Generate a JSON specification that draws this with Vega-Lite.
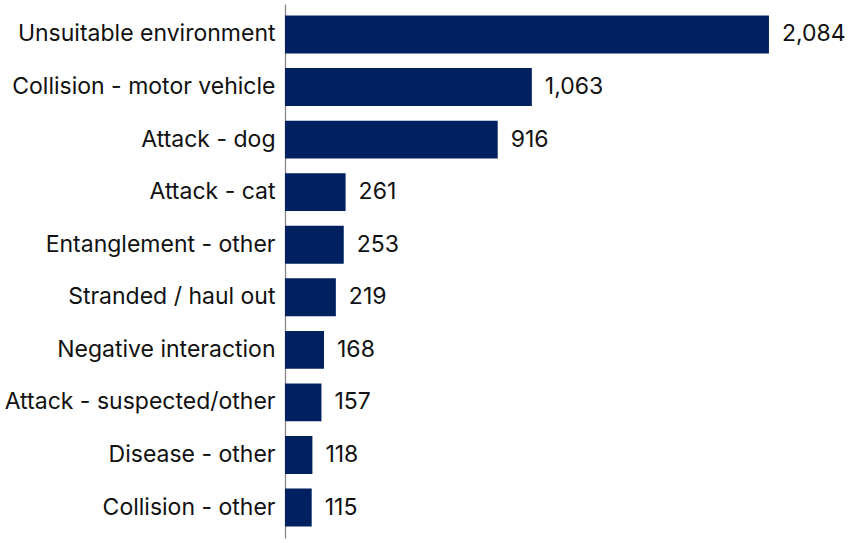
{
  "$schema": "https://vega.github.io/schema/vega-lite/v6.json",
  "width": 565,
  "height": 534,
  "autosize": "none",
  "padding": {"left": 285, "top": 4, "right": 11, "bottom": 5},
  "background": "white",
  "config": {"view": {"stroke": null}, "font": "Inter"},
  "data": {"values": [
    {"cause": "Unsuitable environment", "count": 2084},
    {"cause": "Collision - motor vehicle", "count": 1063},
    {"cause": "Attack - dog", "count": 916},
    {"cause": "Attack - cat", "count": 261},
    {"cause": "Entanglement - other", "count": 253},
    {"cause": "Stranded / haul out", "count": 219},
    {"cause": "Negative interaction", "count": 168},
    {"cause": "Attack - suspected/other", "count": 157},
    {"cause": "Disease - other", "count": 118},
    {"cause": "Collision - other", "count": 115}
  ]},
  "encoding": {
    "y": {"field": "cause", "type": "nominal", "sort": null,
      "scale": {"paddingInner": 0.28, "paddingOuter": 0.22},
      "axis": {"title": null, "ticks": false, "domainColor": "#888888", "domainWidth": 1.3,
        "labelFontSize": 23, "labelColor": "#111111", "labelPadding": 10, "labelLimit": 300, "labelFont": "Inter"}},
    "x": {"field": "count", "type": "quantitative", "scale": {"domain": [0, 2433]}, "axis": null}
  },
  "layer": [
    {"mark": {"type": "bar", "color": "#002060"}},
    {"mark": {"type": "text", "align": "left", "dx": 13, "fontSize": 23, "color": "#111111", "font": "Inter"},
      "encoding": {"text": {"field": "count", "type": "quantitative", "format": ","}}}
  ]
}
